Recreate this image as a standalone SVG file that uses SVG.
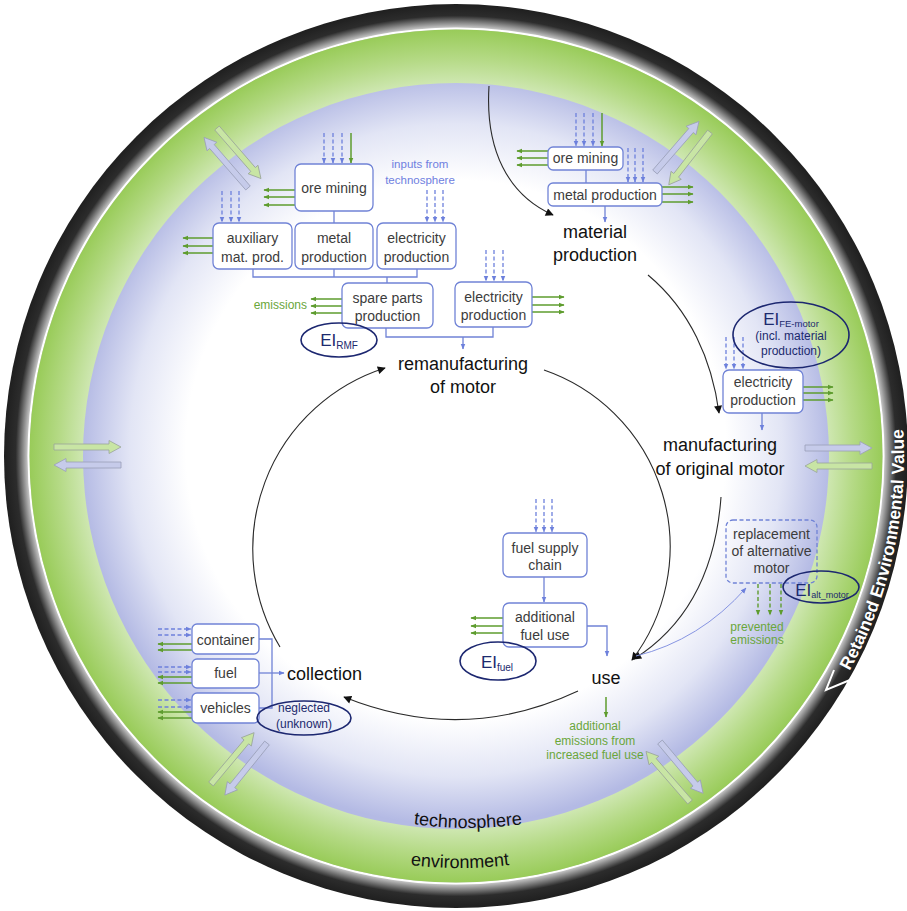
<svg xmlns="http://www.w3.org/2000/svg" width="907" height="911" viewBox="0 0 907 911">
<style>
.box{fill:#fff;stroke:#7083d6;stroke-width:1.3}
.dbox{fill:none;stroke:#7083d6;stroke-width:1.3;stroke-dasharray:4 2.5}
.bt{font-family:"Liberation Sans",Arial,sans-serif;font-size:14px;fill:#3c3c3c;text-anchor:middle}
.st{font-family:"Liberation Sans",Arial,sans-serif;font-size:18px;fill:#111;text-anchor:middle}
.gt{font-family:"Liberation Sans",Arial,sans-serif;font-size:12px;fill:#6aa63a;text-anchor:middle}
.bl{font-family:"Liberation Sans",Arial,sans-serif;font-size:11.5px;fill:#6f80e0;text-anchor:middle}
.nt{font-family:"Liberation Sans",Arial,sans-serif;font-size:12px;fill:#1c2a6e;text-anchor:middle}
.ei{font-family:"Liberation Sans",Arial,sans-serif;font-size:17px;fill:#1c2a6e;text-anchor:middle}
.el{fill:none;stroke:#1c2770;stroke-width:1.6}
.db{fill:none;stroke:#6d80dc;stroke-width:1.3;stroke-dasharray:4 2.5;marker-end:url(#aB)}
.dg{fill:none;stroke:#5e9c2e;stroke-width:1.4;stroke-dasharray:4 2.5;marker-end:url(#aG)}
.sg{fill:none;stroke:#5e9c2e;stroke-width:1.5;marker-end:url(#aG)}
.cb{fill:none;stroke:#7083d6;stroke-width:1.3}
.ab{fill:none;stroke:#7083d6;stroke-width:1.3;marker-end:url(#aB)}
.ck{fill:none;stroke:#2a2a2a;stroke-width:1.1;marker-end:url(#aK)}
.xg{fill:#c8e5a4;stroke:#9aa59a;stroke-width:0.8}
.xb{fill:#c6cbea;stroke:#9aa0b8;stroke-width:0.8}
</style>
<defs>
<marker id="aB" viewBox="0 0 10 10" refX="9" refY="5" markerWidth="6" markerHeight="6" markerUnits="userSpaceOnUse" orient="auto"><path d="M0,1 L10,5 L0,9 Z" fill="#6d80dc"/></marker>
<marker id="aG" viewBox="0 0 10 10" refX="9" refY="5" markerWidth="6" markerHeight="6" markerUnits="userSpaceOnUse" orient="auto"><path d="M0,1 L10,5 L0,9 Z" fill="#5e9c2e"/></marker>
<marker id="aK" viewBox="0 0 10 10" refX="9" refY="5" markerWidth="9" markerHeight="8" markerUnits="userSpaceOnUse" orient="auto"><path d="M0,0 L10,5 L0,10 Z" fill="#111"/></marker>
<radialGradient id="gBlack" gradientUnits="userSpaceOnUse" cx="456" cy="456" r="453">
<stop offset="0.944" stop-color="#d0d0d0"/>
<stop offset="0.972" stop-color="#2c2c2c"/>
<stop offset="1" stop-color="#1e1e1e"/>
</radialGradient>
<radialGradient id="gGreen" gradientUnits="userSpaceOnUse" cx="456" cy="456" r="427">
<stop offset="0.86" stop-color="#d4eabb"/>
<stop offset="0.93" stop-color="#b5da86"/>
<stop offset="1" stop-color="#98cb58"/>
</radialGradient>
<radialGradient id="gBlue" gradientUnits="userSpaceOnUse" cx="456" cy="450" r="375">
<stop offset="0" stop-color="#ffffff"/>
<stop offset="0.72" stop-color="#ffffff"/>
<stop offset="0.87" stop-color="#e2e5f5"/>
<stop offset="1" stop-color="#b4bae4"/>
</radialGradient>
<path id="xa" d="M0,-3 H55 V-6.5 L67,0 L55,6.5 V3 H0 Z"/>
<path id="pRet" d="M849.5,671 A448 448 0 0 0 901.5,409.2"/>
<path id="pEnv" d="M254,812.8 A412 412 0 0 0 666,812.8"/>
<path id="pTec" d="M282,778.2 A372 372 0 0 0 654,778.2"/>
</defs>

<g id="background">
<rect width="907" height="911" fill="#fff"/>
<circle cx="456" cy="456" r="452" fill="url(#gBlack)"/>
<circle cx="456" cy="456" r="427.5" fill="none" stroke="#fff" stroke-width="2"/>
<circle cx="456" cy="456" r="426.5" fill="url(#gGreen)"/>
<circle cx="456" cy="456" r="373" fill="url(#gBlue)"/>
<path d="M834,670 L826,690 L850,680" fill="none" stroke="#fff" stroke-width="2"/>
<text font-family="'Liberation Sans',Arial,sans-serif" font-size="17.5" font-weight="bold" fill="#fff"><textPath href="#pRet">Retained Environmental Value</textPath></text>
<text font-family="'Liberation Sans',Arial,sans-serif" font-size="18" fill="#111" text-anchor="middle"><textPath href="#pTec" startOffset="50%">technosphere</textPath></text>
<text font-family="'Liberation Sans',Arial,sans-serif" font-size="18" fill="#111" text-anchor="middle"><textPath href="#pEnv" startOffset="50%">environment</textPath></text>
</g>

<g id="exchange-arrows">
<use href="#xa" class="xg" transform="translate(54,447)"/>
<use href="#xa" class="xb" transform="translate(121,465) rotate(180)"/>
<use href="#xa" class="xb" transform="translate(805,448)"/>
<use href="#xa" class="xg" transform="translate(872,466) rotate(180)"/>
<use href="#xa" class="xg" transform="translate(217,128) rotate(49)"/>
<use href="#xa" class="xb" transform="translate(248,188) rotate(229)"/>
<use href="#xa" class="xb" transform="translate(655,172) rotate(-49)"/>
<use href="#xa" class="xg" transform="translate(710,132) rotate(128)"/>
<use href="#xa" class="xg" transform="translate(211,784) rotate(-50)"/>
<use href="#xa" class="xb" transform="translate(267,743) rotate(129)"/>
<use href="#xa" class="xg" transform="translate(690,802) rotate(229)"/>
<use href="#xa" class="xb" transform="translate(660,742) rotate(50)"/>
</g>

<g id="connectors">
<path class="ck" d="M489,86 C485,150 508,195 553,215"/>
<path class="ck" d="M648,275 C690,310 712,360 719,413"/>
<path class="ck" d="M721,497 C715,580 680,630 634,659"/>
<path class="ck" d="M544,370 A187 187 0 0 1 632,660"/>
<path class="ck" d="M578,691 Q463,745 344,697"/>
<path class="ck" d="M280,647 A190 190 0 0 1 385,368"/>
<path fill="none" stroke="#8795e2" stroke-width="1" marker-end="url(#aB)" d="M636,656 Q700,640 746,588"/>
<path class="db" d="M324,133 V163"/><path class="db" d="M333,133 V163"/><path class="db" d="M342,133 V163"/>
<path class="sg" d="M351,133 V163"/>
<path class="sg" d="M295,190 H264"/><path class="sg" d="M295,197 H264"/><path class="sg" d="M295,205 H264"/>
<path class="db" d="M222,191 V222"/><path class="db" d="M231,191 V222"/><path class="db" d="M239,191 V222"/>
<path class="sg" d="M213,238 H183"/><path class="sg" d="M213,246 H183"/><path class="sg" d="M213,253 H183"/>
<path class="db" d="M427,190 V222"/><path class="db" d="M435,190 V222"/><path class="db" d="M443,190 V222"/>
<path class="cb" d="M334,211 V223"/>
<path class="cb" d="M253,269 V277 H417 V269 M334,269 V277 M387,277 V283"/>
<path class="sg" d="M342,299 H311"/><path class="sg" d="M342,306 H311"/><path class="sg" d="M342,313 H311"/>
<path class="db" d="M486,250 V281"/><path class="db" d="M494,250 V281"/><path class="db" d="M503,250 V281"/>
<path class="sg" d="M532,297 H564"/><path class="sg" d="M532,305 H564"/><path class="sg" d="M532,312 H564"/>
<path class="cb" d="M386,328 V337 H493 V327"/>
<path class="ab" d="M463,337 V349"/>
<path class="db" d="M576,113 V146"/><path class="db" d="M584,113 V146"/><path class="db" d="M593,113 V146"/>
<path class="sg" d="M602,113 V146"/>
<path class="sg" d="M548,151 H517"/><path class="sg" d="M548,158 H517"/><path class="sg" d="M548,165 H517"/>
<path class="db" d="M628,148 V182"/><path class="db" d="M635,148 V182"/><path class="db" d="M643,148 V182"/>
<path class="cb" d="M586,170 V183"/>
<path class="sg" d="M662,187 H693"/><path class="sg" d="M662,194 H693"/><path class="sg" d="M662,202 H693"/>
<path class="ab" d="M605,206 V222"/>
<path class="db" d="M726,337 V369"/><path class="db" d="M734,337 V369"/><path class="db" d="M743,337 V369"/>
<path class="sg" d="M803,387 H833"/><path class="sg" d="M803,393 H833"/><path class="sg" d="M803,400 H833"/>
<path class="ab" d="M762,413 V430"/>
<path class="db" d="M536,499 V532"/><path class="db" d="M544,499 V532"/><path class="db" d="M552,499 V532"/>
<path class="ab" d="M544,577 V602"/>
<path class="sg" d="M503,618 H471"/><path class="sg" d="M503,626 H471"/><path class="sg" d="M503,633 H471"/>
<path class="ab" d="M587,626 H607 V656"/>
<path class="sg" d="M606,697 V717"/>
<path class="dg" d="M758,584 V615"/><path class="dg" d="M770,584 V615"/><path class="dg" d="M781,584 V615"/>
<path class="db" d="M158,629 H191"/><path class="db" d="M158,635 H191"/>
<path class="sg" d="M192,644 H158"/><path class="sg" d="M192,650 H158"/>
<path class="db" d="M158,667 H191"/><path class="db" d="M158,672 H191"/>
<path class="sg" d="M192,677 H158"/><path class="sg" d="M192,683 H158"/>
<path class="db" d="M158,700 H191"/><path class="db" d="M158,707 H191"/>
<path class="sg" d="M192,712 H158"/><path class="sg" d="M192,718 H158"/>
<path class="cb" d="M259,639 H272 V708 H259"/>
<path class="ab" d="M259,673 H284"/>
</g>

<g id="n-ore-mining-1"><rect class="box" x="295" y="164" width="78" height="47" rx="6"/><text class="bt" x="334" y="193">ore mining</text></g>
<g id="n-aux"><rect class="box" x="213" y="223" width="79" height="46" rx="6"/><text class="bt" x="252.5" y="243">auxiliary</text><text class="bt" x="252.5" y="262">mat. prod.</text></g>
<g id="n-metal-1"><rect class="box" x="295" y="223" width="78" height="46" rx="6"/><text class="bt" x="334" y="243">metal</text><text class="bt" x="334" y="262">production</text></g>
<g id="n-elec-1"><rect class="box" x="377" y="223" width="79" height="46" rx="6"/><text class="bt" x="416.5" y="243">electricity</text><text class="bt" x="416.5" y="262">production</text></g>
<g id="n-spare"><rect class="box" x="342" y="283" width="91" height="45" rx="6"/><text class="bt" x="387.5" y="303">spare parts</text><text class="bt" x="387.5" y="321">production</text></g>
<g id="n-elec-2"><rect class="box" x="455" y="282" width="77" height="45" rx="6"/><text class="bt" x="493.5" y="302">electricity</text><text class="bt" x="493.5" y="320">production</text></g>
<g id="n-ore-mining-2"><rect class="box" x="548" y="147" width="75" height="23" rx="5"/><text class="bt" x="585.5" y="163">ore mining</text></g>
<g id="n-metal-2"><rect class="box" x="548" y="183" width="114" height="23" rx="5"/><text class="bt" x="605" y="199.5">metal production</text></g>
<g id="n-elec-3"><rect class="box" x="723" y="370" width="80" height="43" rx="6"/><text class="bt" x="763" y="387">electricity</text><text class="bt" x="763" y="405">production</text></g>
<g id="n-fuel-supply"><rect class="box" x="503" y="533" width="84" height="44" rx="6"/><text class="bt" x="545" y="553">fuel supply</text><text class="bt" x="545" y="570">chain</text></g>
<g id="n-add-fuel"><rect class="box" x="503" y="603" width="84" height="44" rx="6"/><text class="bt" x="545" y="622">additional</text><text class="bt" x="545" y="640">fuel use</text></g>
<g id="n-replacement"><rect class="dbox" x="726" y="520" width="91" height="63" rx="7"/><text class="bt" x="771.5" y="539">replacement</text><text class="bt" x="771.5" y="556">of alternative</text><text class="bt" x="771.5" y="573">motor</text></g>
<g id="n-container"><rect class="box" x="192" y="624" width="67" height="30" rx="5"/><text class="bt" x="225.5" y="644.5">container</text></g>
<g id="n-fuel"><rect class="box" x="192" y="659" width="67" height="29" rx="5"/><text class="bt" x="225.5" y="678">fuel</text></g>
<g id="n-vehicles"><rect class="box" x="192" y="693" width="67" height="30" rx="5"/><text class="bt" x="225.5" y="713">vehicles</text></g>

<g id="n-material-production"><text class="st" x="595" y="238">material</text><text class="st" x="595" y="261">production</text></g>
<g id="n-remanufacturing"><text class="st" x="463" y="370">remanufacturing</text><text class="st" x="463" y="393">of motor</text></g>
<g id="n-manufacturing"><text class="st" x="720" y="451">manufacturing</text><text class="st" x="720" y="475">of original motor</text></g>
<g id="n-use"><text class="st" x="606" y="684">use</text></g>
<g id="n-collection"><text class="st" x="287" y="680" style="text-anchor:start">collection</text></g>

<g id="n-ei-rmf"><ellipse class="el" cx="339" cy="340" rx="38" ry="17"/><text class="ei" x="339" y="346">EI<tspan font-size="10" dy="3">RMF</tspan></text></g>
<g id="n-ei-fe"><ellipse class="el" cx="791" cy="335" rx="58" ry="33"/><text class="ei" x="791" y="325">EI<tspan font-size="9.5" dy="2">FE-motor</tspan></text><text class="nt" x="791" y="340" font-size="11.8">(incl. material</text><text class="nt" x="791" y="355" font-size="11.8">production)</text></g>
<g id="n-ei-fuel"><ellipse class="el" cx="498" cy="661" rx="38" ry="19"/><text class="ei" x="497" y="668">EI<tspan font-size="10" dy="3">fuel</tspan></text></g>
<g id="n-ei-alt"><ellipse class="el" cx="821" cy="587" rx="38" ry="16"/><text class="ei" x="822" y="596">EI<tspan font-size="9" dy="2">alt_motor</tspan></text></g>
<g id="n-neglected"><ellipse class="el" cx="304" cy="718" rx="47" ry="17"/><text class="nt" x="304" y="712">neglected</text><text class="nt" x="304" y="728">(unknown)</text></g>

<g id="labels">
<text class="bl" x="420" y="168">inputs from</text>
<text class="bl" x="420" y="184">technosphere</text>
<text class="gt" x="307" y="309" style="text-anchor:end">emissions</text>
<text class="gt" x="757" y="631">prevented</text>
<text class="gt" x="757" y="644">emissions</text>
<text class="gt" x="595" y="730">additional</text>
<text class="gt" x="595" y="745">emissions  from</text>
<text class="gt" x="595" y="759">increased  fuel use</text>
</g>
</svg>
